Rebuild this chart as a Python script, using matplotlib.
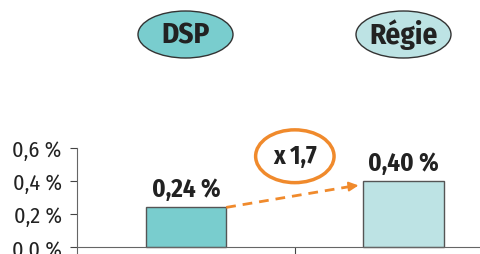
import matplotlib
matplotlib.use('Agg')
import matplotlib.pyplot as plt
from matplotlib.patches import Ellipse

categories = ['DSP', 'Régie']
values = [0.24, 0.40]
value_labels = ['0,24 %', '0,40 %']
yticks = [0.0, 0.2, 0.4, 0.6]
ytick_labels = ['0.0 %', '0,2 %', '0,4 %', '0,6 %']
ratio_label = 'x 1,7'

fill = ['#79cdce', '#bde3e4']
orange = '#f08a2c'
fam = ['Fira Sans Condensed', 'Archivo Narrow', 'Liberation Sans', 'DejaVu Sans']

fig = plt.figure(figsize=(4.8, 2.55), dpi=100)
ax = fig.add_axes([77 / 480, 0, 403 / 480, 106 / 255])
x = range(len(categories))
w = 0.37
ax.bar(x, values, width=w, color=fill, edgecolor='#555555', linewidth=1)
ax.set_xlim(-0.5, 1.35)
ax.set_ylim(-0.0424, 0.6)

for s in ['top', 'right']:
    ax.spines[s].set_visible(False)
ax.spines['bottom'].set_position(('data', 0))
ax.spines['bottom'].set_color('#666666')
ax.spines['left'].set_color('#666666')
ax.set_xticks([0.5])
ax.set_xticklabels([])
ax.tick_params(axis='x', length=7, color='#444444')
ax.set_yticks(yticks)
ax.set_yticklabels(ytick_labels, family=fam, fontsize=16, color='#222222')
ax.tick_params(axis='y', length=5, color='#444444', pad=6)

for i, (v, lab) in enumerate(zip(values, value_labels)):
    ax.text(i, v + 0.035, lab, ha='center', va='bottom', family=fam,
            fontsize=18, fontweight='bold', color='#222222')

# dashed growth arrow
x0, y0 = w / 2, values[0]
x1, y1 = 1 - w / 2 - 0.01, values[1] - 0.025
ax.plot([x0, x1 - 0.04], [y0, y1 - 0.006], ls=(0, (3.5, 2.5)), lw=2, color=orange)
ax.annotate('', xy=(x1, y1), xytext=(x1 - 0.05, y1 - 0.0075),
            arrowprops=dict(arrowstyle='-|>', color=orange, lw=1.5,
                            mutation_scale=14))

ax.add_patch(Ellipse((0.5, 0.55), 0.36, 0.32, fill=False, ec=orange,
                     lw=2.5, clip_on=False))
ax.text(0.5, 0.55, ratio_label, ha='center', va='center', family=fam,
        fontsize=18, fontweight='bold', color='#222222')

# category badges
for i, c in enumerate(categories):
    cx = (185.5 + 218 * i) / 480
    fig.add_artist(Ellipse((cx, 1 - 35.5 / 255), 95 / 480, 47 / 255,
                           transform=fig.transFigure, fc=fill[i],
                           ec='#333333', lw=1))
    fig.text(cx, 1 - 35.5 / 255, c, ha='center', va='center', family=fam,
             fontsize=21, fontweight='bold', color='#222222')

fig.savefig('out.png', dpi=100)
